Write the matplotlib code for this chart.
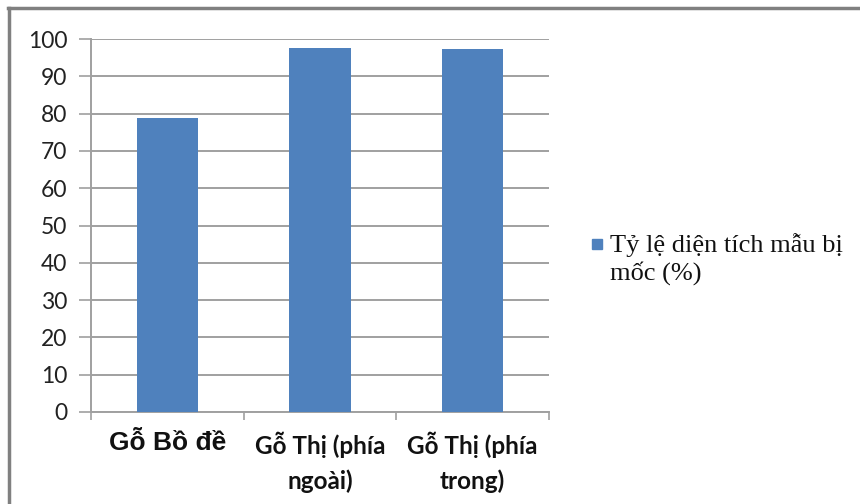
import matplotlib
matplotlib.use("Agg")
import matplotlib.pyplot as plt
from matplotlib.lines import Line2D
import numpy as np

categories = ["Gỗ Bồ đề", "Gỗ Thị (phía\nngoài)", "Gỗ Thị (phía\ntrong)"]
values = [78.8, 97.7, 97.3]
yticks = [0, 10, 20, 30, 40, 50, 60, 70, 80, 90, 100]
series_name = "Tỷ lệ diện tích mẫu bị\nmốc (%)"

fig = plt.figure(figsize=(8.6, 5.04), dpi=100)
ax = fig.add_axes([91/860, 1-412/504, (549-91)/860, (412-39)/504])

x = np.arange(len(categories))
ax.bar(x, values, width=0.4, color="#4F81BD", zorder=3)

grid_c = "#a0a0a0"
ax.set_xlim(-0.5, len(categories)-0.5)
ax.set_ylim(0, 100)
ax.set_yticks(yticks)
ax.set_yticklabels([str(v) for v in yticks], fontsize=16.5, family="Lato", color="#222222")
ax.yaxis.grid(True, color=grid_c, linewidth=1.4, zorder=0)
ax.tick_params(axis="y", length=9, width=1.2, color=grid_c, pad=8)

ax.set_xticks(x)
ax.set_xticklabels(categories, fontsize=17.5, family="Lato", fontweight="bold", color="#111111",
                   linespacing=1.6)
ax.tick_params(axis="x", length=0, pad=14)
labs = ax.get_xticklabels()
labs[0].set_family("Liberation Sans")
labs[0].set_fontsize(19)
ax.set_xticks(np.arange(len(categories)+1)-0.5, minor=True)
ax.tick_params(axis="x", which="minor", length=6, width=1.2, color=grid_c)

for s in ["top", "right"]:
    ax.spines[s].set_visible(False)
for s in ["left", "bottom"]:
    ax.spines[s].set_color(grid_c)
    ax.spines[s].set_linewidth(1.4)

# legend
fig.patches.append(plt.Rectangle((592/860, 1-249/504), 10/860, 10/504,
                                 transform=fig.transFigure, color="#4F81BD"))
fig.text(610/860, 1-233/504, series_name, fontsize=19, family="Liberation Serif",
         va="top", ha="left", color="#111111", linespacing=1.22,
         transform=fig.transFigure)

# frame border (top and left)
fig.add_artist(Line2D([8/860, 1], [1-8/504, 1-8/504], color="#808080", linewidth=2.5,
                      transform=fig.transFigure))
fig.add_artist(Line2D([9/860, 9/860], [0, 1-8/504], color="#808080", linewidth=2.5,
                      transform=fig.transFigure))

fig.savefig("out.png", dpi=100, facecolor="white")
